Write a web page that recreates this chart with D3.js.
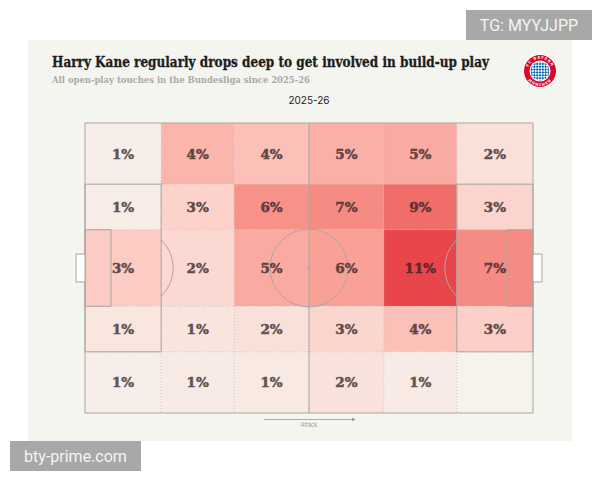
<!DOCTYPE html>
<html>
<head>
<meta charset="utf-8">
<script src="https://cdn.jsdelivr.net/npm/d3@7"></script>
<style>
  body { margin: 0; background: #ffffff; }
  svg { display: block; }
</style>
</head>
<body>
<script>
// Pitch zones (Opta 0-100 coordinates), attack goes left -> right
const zoneX = [0, 17, 33.3, 50, 66.7, 83, 100];
const zoneY = [0, 21.1, 36.8, 63.2, 78.9, 100];

// Share of touches per zone (%), one array per channel, top to bottom
const channelNames = ['Top wing', 'Top half-space', 'Central', 'Bottom half-space', 'Bottom wing'];
const topWing = [0.5, 4.4, 3.8, 4.7, 5.0, 1.7];
const topHalfSpace = [0.7, 2.8, 6.4, 6.8, 8.7, 2.6];
const central = [3.2, 2.3, 5.0, 5.5, 11.2, 6.8];
const bottomHalfSpace = [1.2, 1.3, 1.6, 2.5, 3.8, 3.0];
const bottomWing = [0.5, 0.8, 0.9, 1.5, 0.8, 0.2];
const channels = [topWing, topHalfSpace, central, bottomHalfSpace, bottomWing];

const width = 600;
const height = 480;

const svg = d3.select('body').append('svg')
    .attr('width', width)
    .attr('height', height);

// panel
svg.append('rect')
    .attr('x', 28).attr('y', 40)
    .attr('width', 544).attr('height', 401)
    .attr('fill', '#f5f5f0');

// titles
svg.append('text')
    .attr('x', 52).attr('y', 67)
    .attr('font-family', "'DejaVu Serif', serif")
    .attr('font-weight', 'bold')
    .attr('font-size', 15)
    .attr('fill', '#1e1e1e')
    .attr('stroke', '#1e1e1e')
    .attr('stroke-width', 0.35)
    .attr('textLength', 437)
    .attr('lengthAdjust', 'spacingAndGlyphs')
    .text('Harry Kane regularly drops deep to get involved in build-up play');

svg.append('text')
    .attr('x', 52).attr('y', 83)
    .attr('font-family', "'DejaVu Serif', serif")
    .attr('font-weight', 'bold')
    .attr('font-size', 10)
    .attr('fill', '#a9a9a5')
    .attr('textLength', 258)
    .attr('lengthAdjust', 'spacingAndGlyphs')
    .text('All open-play touches in the Bundesliga since 2025-26');

svg.append('text')
    .attr('x', 309).attr('y', 104)
    .attr('text-anchor', 'middle')
    .attr('font-family', 'Inter, sans-serif')
    .attr('font-size', 10)
    .attr('fill', '#222')
    .text('2025-26');

// scales
const x = d3.scaleLinear().domain([0, 100]).range([85, 533]);
const y = d3.scaleLinear().domain([0, 100]).range([123, 413]);
const color = d3.scaleLinear()
    .domain([0, 3, 6, 11.2])
    .range(['#f6f4ef', '#fcd0c8', '#f9978d', '#e8464a']);
const labelColor = d3.scaleLinear()
    .domain([0, 11.2])
    .range(['#5f5856', '#62262a']);

// cells
const cells = [];
channels.forEach((row, r) => {
    row.forEach((v, c) => {
        cells.push({ r, c, v, channel: channelNames[r] });
    });
});

svg.append('g').selectAll('rect')
    .data(cells)
    .enter().append('rect')
    .attr('x', d => x(zoneX[d.c]))
    .attr('y', d => y(zoneY[d.r]))
    .attr('width', d => x(zoneX[d.c + 1]) - x(zoneX[d.c]))
    .attr('height', d => y(zoneY[d.r + 1]) - y(zoneY[d.r]))
    .attr('fill', d => color(d.v));

// dotted zone lines
const grid = svg.append('g')
    .attr('stroke', '#c4b8b4')
    .attr('stroke-width', 0.8)
    .attr('stroke-dasharray', '1,2');
zoneX.slice(1, -1).forEach(v => {
    grid.append('line')
        .attr('x1', x(v)).attr('x2', x(v))
        .attr('y1', y(0)).attr('y2', y(100));
});
zoneY.slice(1, -1).forEach(v => {
    grid.append('line')
        .attr('x1', x(0)).attr('x2', x(100))
        .attr('y1', y(v)).attr('y2', y(v));
});

// pitch markings
const pitch = svg.append('g')
    .attr('fill', 'none')
    .attr('stroke', '#aca5a2')
    .attr('stroke-width', 1);

pitch.append('rect')
    .attr('x', x(0)).attr('y', y(0))
    .attr('width', x(100) - x(0)).attr('height', y(100) - y(0));
pitch.append('line')
    .attr('x1', x(50)).attr('x2', x(50))
    .attr('y1', y(0)).attr('y2', y(100));

const circleR = x(8.7) - x(0);
pitch.append('circle')
    .attr('cx', x(50)).attr('cy', y(50)).attr('r', circleR);
svg.append('circle')
    .attr('cx', x(50)).attr('cy', y(50)).attr('r', 1.3)
    .attr('fill', '#aca5a2');

[0, 1].forEach(side => {
    const fx = v => side === 0 ? x(v) : x(100 - v);
    // penalty box
    pitch.append('rect')
        .attr('x', Math.min(fx(0), fx(17))).attr('y', y(21.1))
        .attr('width', Math.abs(fx(17) - fx(0))).attr('height', y(78.9) - y(21.1));
    // six-yard box
    pitch.append('rect')
        .attr('x', Math.min(fx(0), fx(5.8))).attr('y', y(36.8))
        .attr('width', Math.abs(fx(5.8) - fx(0))).attr('height', y(63.2) - y(36.8));
    // goal
    pitch.append('rect')
        .attr('x', Math.min(fx(0), fx(-2))).attr('y', y(45.2))
        .attr('width', Math.abs(fx(-2) - fx(0))).attr('height', y(54.8) - y(45.2))
        .attr('fill', '#ffffff');
    // penalty arc
    const spot = fx(11);
    const theta = Math.acos(Math.abs(fx(17) - spot) / circleR);
    const p = d3.path();
    if (side === 0) {
        p.arc(spot, y(50), circleR, -theta, theta);
    } else {
        p.arc(spot, y(50), circleR, Math.PI - theta, Math.PI + theta);
    }
    pitch.append('path').attr('d', p.toString());
});

// labels
svg.append('g').selectAll('text')
    .data(cells.filter(d => Math.round(d.v) > 0))
    .enter().append('text')
    .attr('x', d => (x(zoneX[d.c]) + x(zoneX[d.c + 1])) / 2)
    .attr('y', d => (y(zoneY[d.r]) + y(zoneY[d.r + 1])) / 2 + 5)
    .attr('text-anchor', 'middle')
    .attr('font-family', "'DejaVu Serif', serif")
    .attr('font-weight', 'bold')
    .attr('font-size', 13.5)
    .attr('fill', d => labelColor(d.v))
    .attr('stroke', d => labelColor(d.v))
    .attr('stroke-width', 0.5)
    .text(d => Math.round(d.v) + '%');

// attack arrow
svg.append('defs').append('marker')
    .attr('id', 'arrow')
    .attr('viewBox', '0 0 6 6')
    .attr('refX', 5).attr('refY', 3)
    .attr('markerWidth', 5).attr('markerHeight', 5)
    .attr('orient', 'auto')
    .append('path')
    .attr('d', 'M0,0L6,3L0,6Z')
    .attr('fill', '#9a9a9a');
svg.append('line')
    .attr('x1', 264).attr('x2', 355)
    .attr('y1', 419.5).attr('y2', 419.5)
    .attr('stroke', '#9a9a9a')
    .attr('stroke-width', 0.8)
    .attr('marker-end', 'url(#arrow)');
svg.append('text')
    .attr('x', 309).attr('y', 426.5)
    .attr('text-anchor', 'middle')
    .attr('font-family', 'Inter, sans-serif')
    .attr('font-size', 5.5)
    .attr('fill', '#9a9a9a')
    .text('Attack');

// club badge
const badge = svg.append('g').attr('transform', 'translate(540,71)');
const defs = svg.select('defs');
const pat = defs.append('pattern')
    .attr('id', 'rautes')
    .attr('width', 4).attr('height', 4)
    .attr('patternUnits', 'userSpaceOnUse')
    .attr('patternTransform', 'rotate(45)');
pat.append('rect').attr('width', 4).attr('height', 4).attr('fill', '#ffffff');
pat.append('rect').attr('width', 2).attr('height', 2).attr('fill', '#0066b2');
pat.append('rect').attr('x', 2).attr('y', 2).attr('width', 2).attr('height', 2).attr('fill', '#0066b2');
badge.append('circle').attr('r', 17).attr('fill', '#ffffff');
badge.append('circle').attr('r', 16).attr('fill', '#dc052d');
badge.append('circle').attr('r', 10.5).attr('fill', '#ffffff');
badge.append('circle').attr('r', 9.5).attr('fill', 'url(#rautes)');
// ring lettering, spaced out so the letters stay apart on the curve
defs.append('path').attr('id', 'ringTop')
    .attr('d', 'M-12.3,0A12.3,12.3 0 0 1 12.3,0');
defs.append('path').attr('id', 'ringBottom')
    .attr('d', 'M-15,0A15,15 0 0 0 15,0');
const ringText = badge.append('text')
    .attr('font-family', 'DejaVu Sans, sans-serif')
    .attr('font-weight', 'bold')
    .attr('font-size', 3.6)
    .attr('letter-spacing', 0.9)
    .attr('fill', '#ffffff');
ringText.append('textPath')
    .attr('href', '#ringTop')
    .attr('startOffset', '50%')
    .attr('text-anchor', 'middle')
    .text('FC BAYERN');
ringText.append('textPath')
    .attr('href', '#ringBottom')
    .attr('startOffset', '50%')
    .attr('text-anchor', 'middle')
    .text('MÜNCHEN');

// watermarks
const marks = [
    { text: 'TG: MYYJJPP', x: 466, y: 10, w: 126, h: 30 },
    { text: 'bty-prime.com', x: 10, y: 441, w: 131, h: 30 }
];
marks.forEach(m => {
    svg.append('rect')
        .attr('x', m.x).attr('y', m.y)
        .attr('width', m.w).attr('height', m.h)
        .attr('fill', '#a8a8a8');
    svg.append('text')
        .attr('x', m.x + m.w / 2).attr('y', m.y + m.h / 2 + 5.5)
        .attr('text-anchor', 'middle')
        .attr('font-family', 'Roboto, sans-serif')
        .attr('font-size', 16)
        .attr('fill', '#f4f4f4')
        .text(m.text);
});
</script>
</body>
</html>
